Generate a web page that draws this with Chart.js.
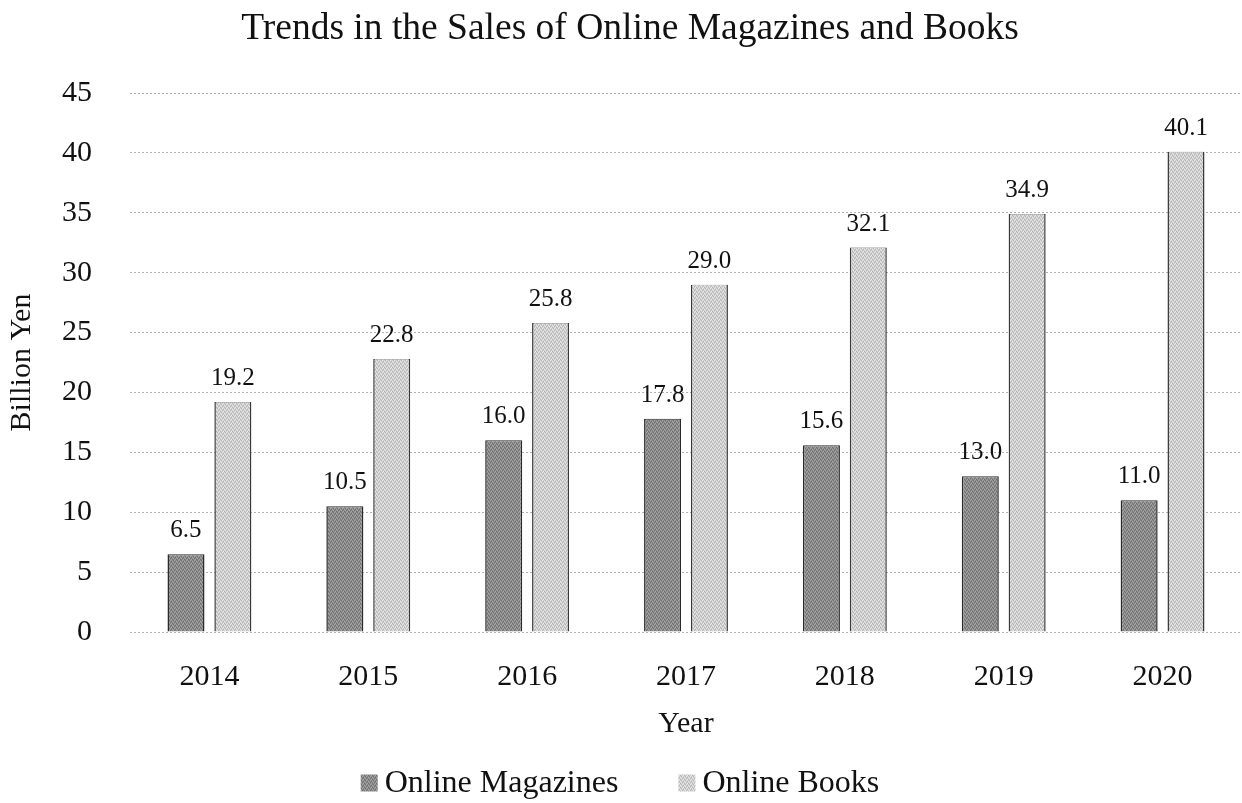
<!DOCTYPE html>
<html>
<head>
<meta charset="utf-8">
<script src="https://cdn.jsdelivr.net/npm/chart.js@4/dist/chart.umd.min.js"></script>
<style>
  html, body { margin: 0; padding: 0; background: #fff; }
  #wrap { width: 1242px; height: 803px; position: relative; }
</style>
</head>
<body>
<div id="wrap"><canvas id="c" width="1242" height="803"></canvas></div>
<script>
const categories = ['2014', '2015', '2016', '2017', '2018', '2019', '2020'];
const magazines = [6.5, 10.5, 16.0, 17.8, 15.6, 13.0, 11.0];
const books = [19.2, 22.8, 25.8, 29.0, 32.1, 34.9, 40.1];
const yTicks = [0, 5, 10, 15, 20, 25, 30, 35, 40, 45];
const chartTitle = 'Trends in the Sales of Online Magazines and Books';

const FONT = "'Liberation Serif', 'DejaVu Serif', serif";

// stipple texture like the printed reference (fixed dither matrix, style only)
function stipple(base, light, dark) {
  const c = document.createElement('canvas');
  c.width = 4; c.height = 4;
  const g = c.getContext('2d');
  const m = [
    [0, 2, 1, 0],
    [1, 0, 0, 2],
    [0, 1, 2, 0],
    [2, 0, 0, 1]
  ];
  const cols = [base, light, dark];
  for (let y = 0; y < 4; y++) for (let x = 0; x < 4; x++) {
    g.fillStyle = cols[m[y][x]];
    g.fillRect(x, y, 1, 1);
  }
  return g.createPattern(c, 'repeat');
}
const magFill = stipple('#8c8c8c', '#a4a4a4', '#6e6e6e');
const bookFill = stipple('#d0d0d0', '#e6e6e6', '#b4b4b4');

const titlePlugin = {
  id: 'customTitle',
  afterDraw(chart) {
    const ctx = chart.ctx;
    ctx.save();
    ctx.font = "37.5px " + FONT;
    ctx.fillStyle = '#111';
    ctx.textAlign = 'center';
    ctx.textBaseline = 'middle';
    ctx.fillText(chartTitle, 630, 29);
    ctx.restore();
  }
};

// legend drawn from the datasets (labels + fills come from chart data)
const legendPlugin = {
  id: 'customLegend',
  afterDraw(chart) {
    const ctx = chart.ctx;
    const box = 17, boxGap = 7, itemGap = 60, cy = 783, centerX = 620;
    ctx.save();
    ctx.font = "32px " + FONT;
    const items = chart.data.datasets.map(ds => ({
      text: ds.label, fill: ds.backgroundColor, w: ctx.measureText(ds.label).width
    }));
    let total = 0;
    items.forEach((it, i) => { total += box + boxGap + it.w + (i ? itemGap : 0); });
    let x = centerX - total / 2;
    ctx.textBaseline = 'middle';
    ctx.textAlign = 'left';
    items.forEach(it => {
      ctx.fillStyle = it.fill;
      ctx.fillRect(x, cy - box / 2, box, box);
      ctx.fillStyle = '#111';
      ctx.fillText(it.text, x + box + boxGap, cy + 1);
      x += box + boxGap + it.w + itemGap;
    });
    ctx.restore();
  }
};

const labelPlugin = {
  id: 'barLabels',
  afterDatasetsDraw(chart) {
    const ctx = chart.ctx;
    ctx.save();
    ctx.font = "25px " + FONT;
    ctx.fillStyle = '#111';
    ctx.textAlign = 'center';
    ctx.textBaseline = 'bottom';
    chart.data.datasets.forEach((ds, i) => {
      const meta = chart.getDatasetMeta(i);
      meta.data.forEach((bar, j) => {
        ctx.fillText(ds.data[j].toFixed(1), bar.x, bar.y - 11);
      });
    });
    ctx.restore();
  }
};

new Chart(document.getElementById('c'), {
  type: 'bar',
  data: {
    labels: categories,
    datasets: [
      {
        label: 'Online Magazines',
        data: magazines,
        backgroundColor: magFill,
        borderColor: '#2a2a2a',
        borderWidth: { left: 1.5, right: 1.5, top: 1, bottom: 0 },
        borderSkipped: false,
        categoryPercentage: 0.59,
        barPercentage: 0.79
      },
      {
        label: 'Online Books',
        data: books,
        backgroundColor: bookFill,
        borderColor: '#3a3a3a',
        borderWidth: { left: 1.5, right: 1.5, top: 0.5, bottom: 0 },
        borderSkipped: false,
        categoryPercentage: 0.59,
        barPercentage: 0.79
      }
    ]
  },
  options: {
    responsive: false,
    animation: false,
    devicePixelRatio: 1,
    layout: { padding: { left: 0, right: 0, top: 93, bottom: 61 } },
    plugins: {
      title: { display: false },
      legend: { display: false },
      tooltip: { enabled: false }
    },
    scales: {
      x: {
        afterFit(scale) { scale.height = 110; },
        grid: { display: false, drawTicks: false },
        border: { display: false },
        ticks: { color: '#111', font: { family: FONT, size: 30 }, padding: 27 },
        title: {
          display: true,
          text: 'Year',
          color: '#111',
          font: { family: FONT, size: 30 },
          padding: { top: 0, bottom: 0 }
        }
      },
      y: {
        min: 0,
        max: 45,
        afterBuildTicks(scale) {
          scale.ticks = yTicks.map(v => ({ value: v }));
        },
        afterFit(scale) { scale.width = 130; },
        grid: {
          color: '#b0b0b0',
          lineWidth: 1,
          drawTicks: false
        },
        border: { display: false, dash: [2, 2] },
        ticks: { color: '#111', font: { family: FONT, size: 30 }, padding: 38 },
        title: {
          display: true,
          text: 'Billion Yen',
          color: '#111',
          font: { family: FONT, size: 30 },
          padding: { top: 4, bottom: 0 }
        }
      }
    }
  },
  plugins: [labelPlugin, titlePlugin, legendPlugin]
});
</script>
</body>
</html>
